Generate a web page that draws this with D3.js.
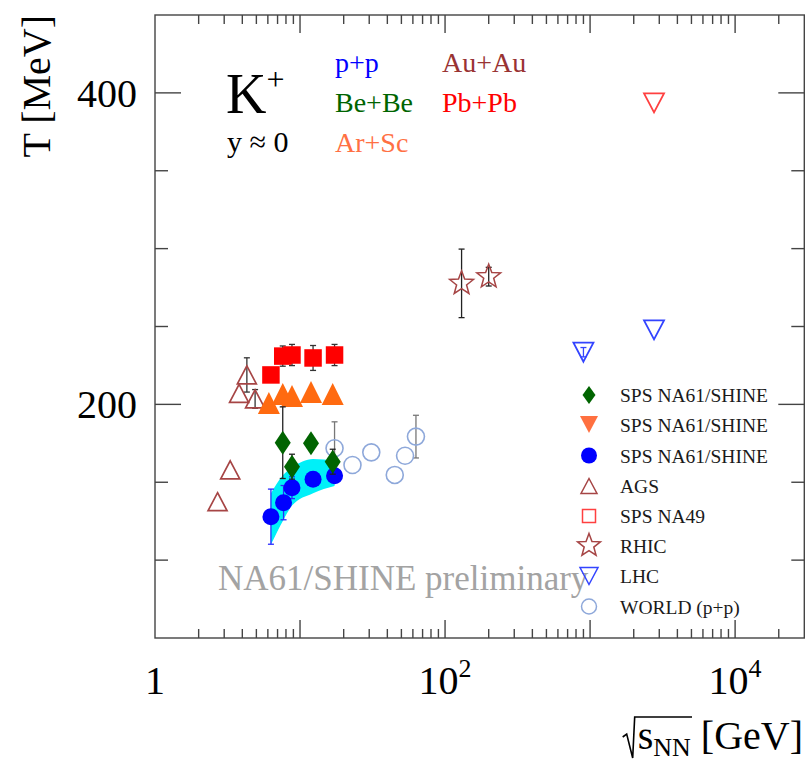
<!DOCTYPE html>
<html>
<head>
<meta charset="utf-8">
<script src="https://cdn.jsdelivr.net/npm/d3@7"></script>
<style>
  body { margin: 0; background: #fff; }
  svg { display: block; }
  text { font-family: "Liberation Serif", "Times New Roman", serif; }
</style>
</head>
<body>
<div id="chart"></div>
<script>
// ---- data (sqrt(s_NN) in GeV, T in MeV) ----
var ppE = [6.3, 7.7, 8.8, 12.3, 17.3],
    ppT = [127.9, 136.9, 146.5, 151.9, 154.2],
    ppErr = [17.7, 11, 7, 3, 3],
    ppBandLo = [110, 126, 135, 143, 147.6],
    ppBandHi = [143, 155, 159.5, 165, 164];

var beE = [7.6, 8.8, 11.9, 16.8],
    beT = [175.4, 160, 175, 163.2],
    beErr = [23, 8, 0, 8];

var arE = [6.1, 7.6, 8.8, 11.9, 16.8],
    arT = [200.9, 206.7, 205.4, 207.9, 206.7];

var pbE = [6.3, 7.6, 8.8, 12.3, 17.3],
    pbT = [218.9, 231, 231.7, 229.8, 231.7],
    pbErr = [0, 6.5, 6.8, 8, 6.8];

var agsE = [2.7, 3.3, 3.8, 4.3, 4.9],
    agsT = [137.5, 157.9, 207.1, 218.9, 203.5],
    agsErr = [0, 0, 0, 11, 6];

var rhicE = [130, 200],
    rhicT = [277.7, 282],
    rhicErr = [22, 6];

var lhcE = [900, 2760],
    lhcT = [233.5, 247.8],
    lhcErr = [3, 0];

var lhcPbE = [2760],
    lhcPbT = [393.6];

var worldE = [17.3, 23, 31, 45, 53, 63],
    worldT = [171.8, 161.1, 169.2, 154.7, 167, 179.3],
    worldErr = [17, 0, 0, 0, 0, 13.7];

var legendLabels = ["SPS NA61/SHINE", "SPS NA61/SHINE", "SPS NA61/SHINE", "AGS",
                    "SPS NA49", "RHIC", "LHC", "WORLD (p+p)"];
var systemLabels = ["p+p", "Be+Be", "Ar+Sc", "Au+Au", "Pb+Pb"];

var xMajor = [1, 10, 100, 1000, 10000],
    xLabels = {1: ["1", ""], 100: ["10", "2"], 10000: ["10", "4"]},
    yMajor = [200, 400],
    yMinor = [100, 150, 250, 300, 350];

// ---- colours ----
var cBlue = "#0000ff", cGreen = "#006400", cOrange = "#ff6a10", cOrangeTxt = "#ff7043",
    cRed = "#ff0000", cBrown = "#a64545", cBrownTxt = "#993333", cWorld = "#8ea8da",
    cLhc = "#3344ff";

var W = 810, H = 761,
    L = 155, R = 804.3, T = 15, B = 638;

var svg = d3.select("#chart").append("svg")
  .attr("width", W).attr("height", H);

var x = d3.scaleLog().domain([1, 3e4]).range([L, R]);
var y = d3.scaleLinear().domain([50, 450]).range([B, T]);

// marker shapes centred on 0,0
function triUp(w, h) { return "M0," + (-h/2) + "L" + (w/2) + "," + (h/2) + "L" + (-w/2) + "," + (h/2) + "Z"; }
function triDown(w, h) { return "M0," + (h/2) + "L" + (w/2) + "," + (-h/2) + "L" + (-w/2) + "," + (-h/2) + "Z"; }
function diamond(w, h) { return "M0," + (-h/2) + "L" + (w/2) + ",0L0," + (h/2) + "L" + (-w/2) + ",0Z"; }
function square(s) { return "M" + (-s/2) + "," + (-s/2) + "h" + s + "v" + s + "h" + (-s) + "Z"; }
function star(r) {
  var p = [], ri = r * 0.42;
  for (var i = 0; i < 10; i++) {
    var a = -Math.PI / 2 + i * Math.PI / 5, rr = i % 2 ? ri : r;
    p.push([rr * Math.cos(a), rr * Math.sin(a)]);
  }
  return "M" + p.map(function (d) { return d[0].toFixed(2) + "," + d[1].toFixed(2); }).join("L") + "Z";
}

function zip(E, Tv, Er) {
  return E.map(function (e, i) { return { e: e, t: Tv[i], err: Er ? Er[i] : 0 }; });
}

// ---- frame and ticks ----
var frame = svg.append("g").attr("stroke", "#444").attr("stroke-width", 1.4).attr("fill", "none");
frame.append("rect").attr("x", L).attr("y", T).attr("width", R - L).attr("height", B - T);

var xMinor = [];
xMajor.forEach(function (m) {
  for (var k = 2; k <= 9; k++) if (m * k < 3e4) xMinor.push(m * k);
});
xMajor.slice(1).forEach(function (v) {
  frame.append("line").attr("x1", x(v)).attr("x2", x(v)).attr("y1", B).attr("y2", B - 18);
  frame.append("line").attr("x1", x(v)).attr("x2", x(v)).attr("y1", T).attr("y2", T + 18);
});
xMinor.forEach(function (v) {
  frame.append("line").attr("x1", x(v)).attr("x2", x(v)).attr("y1", B).attr("y2", B - 9);
  frame.append("line").attr("x1", x(v)).attr("x2", x(v)).attr("y1", T).attr("y2", T + 9);
});
yMajor.forEach(function (v) {
  frame.append("line").attr("x1", L).attr("x2", L + 26).attr("y1", y(v)).attr("y2", y(v));
  frame.append("line").attr("x1", R).attr("x2", R - 26).attr("y1", y(v)).attr("y2", y(v));
});
yMinor.forEach(function (v) {
  frame.append("line").attr("x1", L).attr("x2", L + 13).attr("y1", y(v)).attr("y2", y(v));
  frame.append("line").attr("x1", R).attr("x2", R - 13).attr("y1", y(v)).attr("y2", y(v));
});

// tick labels
Object.keys(xLabels).forEach(function (k) {
  var t = svg.append("text").attr("x", x(+k)).attr("y", 694)
    .attr("text-anchor", "middle").attr("font-size", 40).attr("fill", "#000");
  t.append("tspan").text(xLabels[k][0]);
  if (xLabels[k][1]) t.append("tspan").attr("font-size", 26).attr("dy", -17).text(xLabels[k][1]);
});
yMajor.forEach(function (v) {
  svg.append("text").attr("x", 137).attr("y", y(v) + 14)
    .attr("text-anchor", "end").attr("font-size", 40).attr("fill", "#000").text(v);
});

// axis titles
svg.append("text").attr("transform", "translate(50,15) rotate(-90)")
  .attr("text-anchor", "end").attr("font-size", 40).attr("fill", "#000").text("T [MeV]");

var xtY = 749;
var xt = svg.append("text").attr("x", 803).attr("y", xtY)
  .attr("text-anchor", "end").attr("font-size", 40).attr("fill", "#000");
xt.append("tspan").text("s");
xt.append("tspan").attr("font-size", 26).attr("dy", 7).text("NN");
xt.append("tspan").attr("dy", -7).text(" [GeV]");
var sBox = xt.select("tspan").node().getBBox();
var nnBox = xt.selectAll("tspan").nodes()[1].getBBox();
var rx0 = sBox.x - 3, rTop = sBox.y + 4;
svg.append("path")
  .attr("d", "M" + (rx0 - 12) + "," + (xtY - 12) + "L" + (rx0 - 8) + "," + (xtY - 15) +
    "L" + (rx0 - 2) + "," + (xtY + 9) + "L" + rx0 + "," + rTop + "L" + (nnBox.x + nnBox.width + 1) + "," + rTop)
  .attr("fill", "none").attr("stroke", "#000").attr("stroke-width", 1.6);

// ---- data layers ----
var plot = svg.append("g");

// p+p systematic band
var band = ppE.map(function (e, i) { return { e: e, lo: ppBandLo[i], hi: ppBandHi[i] }; });
plot.append("path").datum(band)
  .attr("d", d3.area().curve(d3.curveMonotoneX)
    .x(function (d) { return x(d.e); })
    .y0(function (d) { return y(d.lo); })
    .y1(function (d) { return y(d.hi); }))
  .attr("fill", "#00f0f8");

function errBars(data, color) {
  var g = plot.append("g").attr("stroke", color).attr("stroke-width", 1.3);
  data.filter(function (d) { return d.err > 0; }).forEach(function (d) {
    var cx = x(d.e), y1 = y(d.t + d.err), y2 = y(d.t - d.err);
    g.append("line").attr("x1", cx).attr("x2", cx).attr("y1", y1).attr("y2", y2);
    g.append("line").attr("x1", cx - 3).attr("x2", cx + 3).attr("y1", y1).attr("y2", y1);
    g.append("line").attr("x1", cx - 3).attr("x2", cx + 3).attr("y1", y2).attr("y2", y2);
  });
}
function markers(data, pathStr, fill, stroke, sw) {
  plot.append("g").selectAll("path").data(data).enter().append("path")
    .attr("d", pathStr)
    .attr("transform", function (d) { return "translate(" + x(d.e) + "," + y(d.t) + ")"; })
    .attr("fill", fill).attr("stroke", stroke || "none").attr("stroke-width", sw || 0);
}
function circles(data, r, fill, stroke, sw) {
  plot.append("g").selectAll("circle").data(data).enter().append("circle")
    .attr("cx", function (d) { return x(d.e); })
    .attr("cy", function (d) { return y(d.t); })
    .attr("r", r).attr("fill", fill).attr("stroke", stroke || "none").attr("stroke-width", sw || 0);
}

var world = zip(worldE, worldT, worldErr);
errBars(world, "#777");
circles(world, 8.5, "none", cWorld, 1.6);

var ags = zip(agsE, agsT, agsErr);
errBars(ags, "#333");
markers(ags, triUp(19, 18), "none", cBrown, 1.7);

var pb = zip(pbE, pbT, pbErr);
errBars(pb, "#333");
markers(pb, square(17.5), cRed);

var ar = zip(arE, arT);
markers(ar, triUp(22, 22), cOrange);

var pp = zip(ppE, ppT, ppErr);
errBars(pp, "#2a2aff");
circles(pp, 8.5, cBlue);

var be = zip(beE, beT, beErr);
errBars(be, "#222");
markers(be, diamond(16, 24), cGreen);

var rhic = zip(rhicE, rhicT, rhicErr);
errBars(rhic, "#222");
markers(rhic, star(12.5), "none", cBrown, 1.5);

var lhc = zip(lhcE, lhcT, lhcErr);
errBars(lhc, cLhc);
markers(lhc, triDown(20, 19), "none", cLhc, 1.8);

markers(zip(lhcPbE, lhcPbT), triDown(20, 19), "none", "#ff4040", 1.8);

// ---- texts inside the plot ----
var kt = svg.append("text").attr("x", 226).attr("y", 113).attr("font-size", 56).attr("fill", "#000");
kt.append("tspan").text("K");
kt.append("tspan").attr("font-size", 32).attr("dy", -23).text("+");
svg.append("text").attr("x", 227).attr("y", 152).attr("font-size", 30).attr("fill", "#000").text("y \u2248 0");

var sysPos = [[335, 72, cBlue], [335, 112, cGreen], [335, 152, cOrangeTxt],
              [442, 72, cBrownTxt], [442, 112, cRed]];
systemLabels.forEach(function (s, i) {
  svg.append("text").attr("x", sysPos[i][0]).attr("y", sysPos[i][1])
    .attr("font-size", 28).attr("fill", sysPos[i][2]).text(s);
});

svg.append("text").attr("x", 218).attr("y", 590)
  .attr("font-family", "'Open Sans', 'Noto Sans', sans-serif")
  .attr("font-size", 35).attr("fill", "#a3a3a3").text("NA61/SHINE preliminary");

// ---- legend ----
var legRows = [395, 424.5, 455.5, 486, 516, 545.5, 576, 606.5];
var lg = svg.append("g");
var legMarks = [
  { d: diamond(13, 18), fill: cGreen },
  { d: triDown(18, 17), fill: "#ff7040" },
  { c: 8, fill: cBlue },
  { d: triUp(16, 15), fill: "none", stroke: cBrown },
  { d: square(13), fill: "none", stroke: "#ff4040" },
  { d: star(12), fill: "none", stroke: cBrown },
  { d: triDown(18, 17), fill: "none", stroke: cLhc },
  { c: 7.5, fill: "none", stroke: cWorld }
];
legendLabels.forEach(function (lab, i) {
  var m = legMarks[i], yy = legRows[i];
  if (m.c) {
    lg.append("circle").attr("cx", 589).attr("cy", yy).attr("r", m.c)
      .attr("fill", m.fill).attr("stroke", m.stroke || "none").attr("stroke-width", 1.5);
  } else {
    lg.append("path").attr("d", m.d).attr("transform", "translate(589," + yy + ")")
      .attr("fill", m.fill).attr("stroke", m.stroke || "none").attr("stroke-width", 1.5);
  }
  lg.append("text").attr("x", 620).attr("y", yy + 7).attr("font-size", 19.5)
    .attr("fill", "#1a1a1a").text(lab);
});
</script>
</body>
</html>
